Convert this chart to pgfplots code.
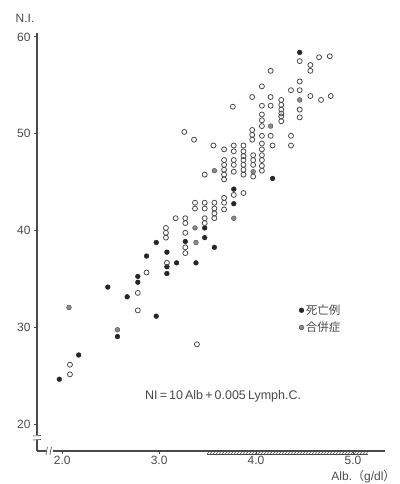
\documentclass[border=0pt]{standalone}
\usepackage{pgfplots}
\pgfplotsset{compat=1.18}
\usetikzlibrary{patterns}
\usepackage{fontspec}
\setmainfont{Liberation Sans}
\newfontfamily\cjk{Noto Sans CJK JP}
\definecolor{ink}{HTML}{4A4A4A}
\definecolor{greydot}{HTML}{8A8A8A}
\begin{document}
\begin{tikzpicture}
\useasboundingbox (-37pt,-33pt) rectangle (362pt,451pt);
\begin{axis}[
  at={(0,0)}, anchor=south west,
  scale only axis, width=348pt, height=418pt,
  xmin=1.74, xmax=5.33, ymin=17.3, ymax=60.4,
  axis x line=bottom, axis y line=left,
  axis line style={ink, line width=1.1pt, -},
  xtick={2,3,4,5}, xticklabels={2.0,3.0,4.0,5.0},
  ytick={20,30,40,50,60},
  tick align=outside, major tick length=3pt,
  tick style={ink, line width=0.8pt},
  /pgf/number format/assume math mode=true,
  ticklabel style={font=\fontsize{12}{13}\selectfont, text=ink},
  xticklabel style={yshift=1pt},
  clip=false,
  legend style={at={(0.744,0.36)}, anchor=north west, draw=none, fill=none,
    font=\cjk\fontsize{11.5}{13}\selectfont, text=ink, row sep=2pt},
  legend cell align=left,
]
% 死亡例 (filled black)
\addplot[only marks, mark=*, mark size=2.4pt, mark options={draw=black!85, fill=black!85}] coordinates {
(4.45,58.4) (4.17,45.4) (3.77,44.3) (3.77,42.8) (3.57,38.3) (3.47,40.3) (3.47,39.3)
(3.27,38.9) (2.97,38.8) (2.87,37.4) (3.08,37.8) (3.08,36.3) (3.08,35.6) (3.18,36.7)
(3.38,36.7) (2.78,35.3) (2.78,34.7) (2.47,34.2) (2.67,33.2) (2.97,31.2) (2.57,29.1)
(2.17,27.2) (1.97,24.7)
};
\addlegendentry{死亡例}
% 合併症 (grey)
\addplot[only marks, mark=*, mark size=2.4pt, mark options={draw=ink, fill=greydot}] coordinates {
(2.07,32.1) (2.57,29.8) (3.57,46.2) (4.15,50.8) (3.77,41.3) (3.38,38.8) (3.37,40.3)
(4.45,53.5) (3.97,46.1)
};
\addlegendentry{合併症}
% others (open)
\addplot[only marks, mark=o, mark size=2.5pt, mark options={draw=ink, line width=0.8pt, fill=white}, forget plot] coordinates {
(4.45,57.5) (4.56,57.1) (4.56,56.5) (4.65,57.9) (4.76,58.0) (4.15,56.5) (4.45,55.4)
(4.06,54.9) (4.36,54.5) (4.45,54.5) (3.96,53.8) (4.15,53.8) (4.56,53.9) (4.67,53.5)
(4.77,53.9) (3.76,52.8) (4.06,52.9) (4.15,52.9)
(4.26,53.5) (4.26,53.0) (4.26,52.5) (4.26,52.1) (4.26,51.8) (4.26,51.3)
(4.45,52.5) (4.45,51.7)
(4.06,52.0) (4.06,51.4) (4.06,50.8)
(3.96,50.4) (3.96,49.9) (3.96,49.4)
(4.06,49.8) (4.15,49.8) (4.36,49.8) (4.36,48.8) (4.17,48.8) (3.56,48.8)
(3.77,48.8) (3.77,48.2) (3.77,47.3) (3.77,46.8) (3.77,46.1)
(3.87,48.8) (3.87,48.2) (3.87,47.7) (3.87,47.3) (3.87,46.8) (3.87,46.3) (3.87,45.8)
(3.97,47.8) (3.97,47.3) (3.97,46.8) (3.97,45.6)
(4.06,49.0) (4.06,48.4) (4.06,47.8) (4.06,47.3) (4.06,46.7) (4.06,46.2)
(3.67,48.4) (3.67,47.3) (3.67,46.8) (3.67,46.3) (3.67,45.8) (3.67,45.3)
(3.47,45.8) (3.87,43.9) (3.77,43.7)
(3.67,43.4) (3.67,42.9) (3.67,42.2)
(3.57,42.9) (3.57,42.3) (3.57,41.8) (3.57,41.3)
(3.47,42.9) (3.47,42.3) (3.47,41.3) (3.47,40.8)
(3.26,50.2) (3.36,49.4) (3.37,42.9) (3.37,42.3) (3.17,41.3) (3.27,41.3) (3.27,40.8)
(3.07,40.3) (3.07,39.8) (3.07,39.3) (3.27,39.8)
(3.27,38.3) (3.27,37.7) (3.08,36.7) (2.87,35.7) (2.78,33.6) (2.78,31.8)
(2.08,26.2) (2.08,25.2) (3.39,28.3)
};
% normal range bar
\fill[pattern=north east lines, pattern color=ink] (axis cs:3.49,17.3) rectangle ([yshift=-3pt]axis cs:5.15,17.3);
\draw[ink, line width=0.5pt] ([yshift=-3pt]axis cs:3.49,17.3) -- ([yshift=-3pt]axis cs:5.15,17.3);
% equation
\node[text=ink, font=\fontsize{12.5}{14}\selectfont] at (axis cs:3.66,22.9) {NI\,=\,10\,Alb\,+\,0.005\,Lymph.C.};
\end{axis}
% axis break marks
\fill[white] (-3pt,11pt) rectangle (3pt,16pt);
\draw[ink, line width=0.6pt] (-4pt,11pt) .. controls (-1pt,12.5pt) and (1pt,10pt) .. (4pt,11.5pt);
\draw[ink, line width=0.6pt] (-4pt,15pt) .. controls (-1pt,16.5pt) and (1pt,14pt) .. (4pt,15.5pt);
\fill[white] (9pt,-2pt) rectangle (16pt,2pt);
\draw[ink, line width=0.6pt] (9pt,-4pt) .. controls (11pt,-1pt) and (8pt,1pt) .. (10.5pt,4pt);
\draw[ink, line width=0.6pt] (13pt,-4pt) .. controls (15pt,-1pt) and (12pt,1pt) .. (14.5pt,4pt);
% axis titles
\node[text=ink, font=\fontsize{12}{13}\selectfont] at (-12pt,433pt) {N.I.};
\node[text=ink, font=\fontsize{12}{13}\selectfont, anchor=east] at (362pt,-26pt) {Alb.{\cjk （}g/dl{\cjk ）}};
\end{tikzpicture}
\end{document}
